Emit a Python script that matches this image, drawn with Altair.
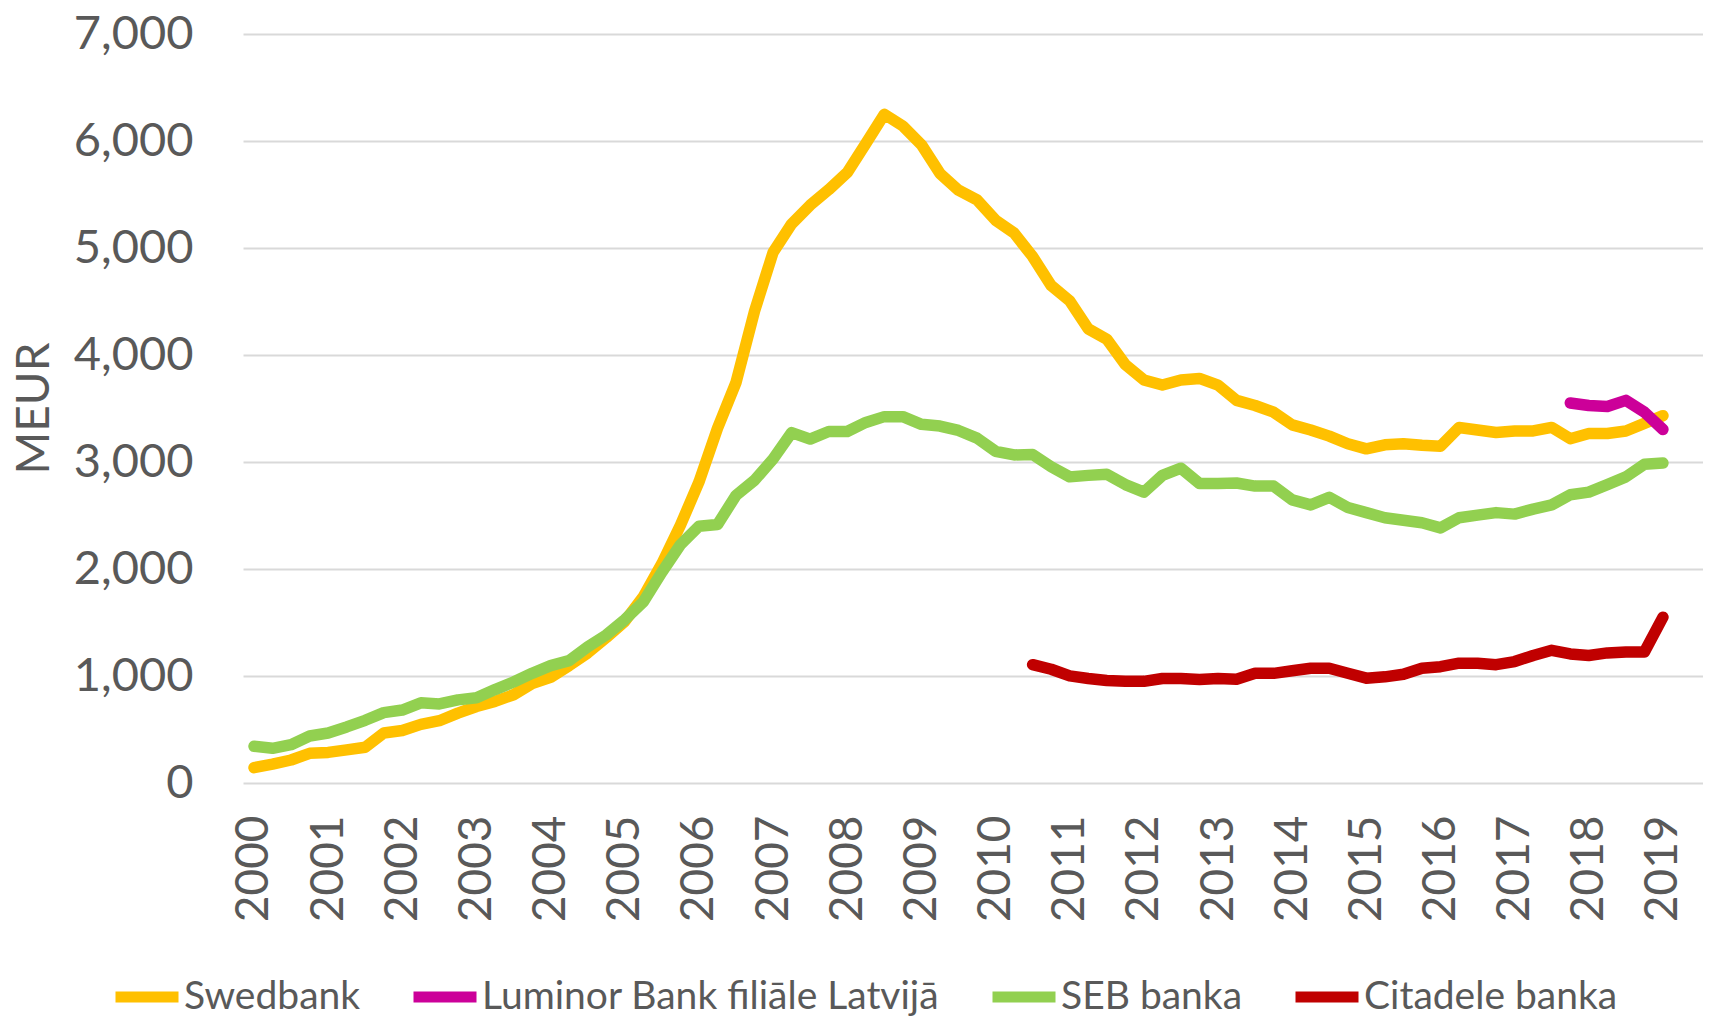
import altair as alt
import pandas as pd

# ---- data (quarterly, 2000Q1 .. 2019Q1), MEUR ----
years = list(range(2000, 2020))

swedbank = [143, 176, 215, 277, 286, 310, 334, 467, 491, 548, 582, 653, 715, 763, 825, 930,
            987, 1097, 1216, 1359, 1511, 1740, 2050, 2408, 2813, 3314, 3743, 4410, 4959, 5225,
            5400, 5545, 5705, 5975, 6250, 6140, 5965, 5697, 5540, 5450, 5260, 5140, 4920, 4649,
            4506, 4244, 4148, 3910, 3767, 3719, 3767, 3781, 3719, 3576, 3528, 3466, 3347, 3299,
            3242, 3171, 3123, 3161, 3171, 3156, 3147, 3323, 3299, 3276, 3290, 3290, 3323, 3218,
            3266, 3266, 3290, 3361, 3433]

luminor_start = 71
luminor = [3552, 3528, 3519, 3576, 3466, 3304]

seb = [343, 324, 358, 439, 467, 524, 586, 658, 682, 749, 739, 777, 796, 873, 944, 1025,
       1097, 1144, 1273, 1383, 1526, 1693, 1969, 2227, 2400, 2415, 2688, 2830, 3028, 3274,
       3214, 3285, 3285, 3370, 3424, 3424, 3352, 3336, 3295, 3223, 3100, 3066, 3070, 2956,
       2861, 2875, 2885, 2789, 2718, 2875, 2942, 2799, 2799, 2804, 2775, 2775, 2646, 2599,
       2670, 2575, 2527, 2479, 2456, 2432, 2384, 2479, 2503, 2527, 2513, 2560, 2599, 2694,
       2718, 2789, 2861, 2980, 2990]

citadele_start = 42
citadele = [1106, 1063, 1001, 977, 958, 952, 950, 977, 977, 968, 977, 970, 1025, 1025, 1049,
            1073, 1073, 1025, 980, 992, 1016, 1073, 1087, 1120, 1120, 1106, 1135, 1192, 1240,
            1206, 1192, 1216, 1225, 1225, 1550]

banks = ["Swedbank", "Luminor Bank filiāle Latvijā", "SEB banka", "Citadele banka"]
colors = ["#FFC000", "#CC0099", "#92D050", "#C00000"]

rows = []
for name, vals, start in [(banks[0], swedbank, 0), (banks[1], luminor, luminor_start),
                          (banks[2], seb, 0), (banks[3], citadele, citadele_start)]:
    for i, v in enumerate(vals):
        rows.append({"t": start + i, "value": v, "bank": name})
df = pd.DataFrame(rows)

W, H = 1460, 749
TXT = "#595959"
FONT = "Lato"

chart = alt.Chart(df).mark_line(
    strokeWidth=11.5, strokeCap="round", strokeJoin="round"
).encode(
    x=alt.X(
        "t:Q",
        scale=alt.Scale(domain=[-0.593, 78.16], nice=False, zero=False),
        axis=alt.Axis(
            values=[(y - 2000) * 4 for y in years],
            labelExpr="toString(2000 + datum.value / 4)",
            labelAngle=270, labelAlign="right", labelBaseline="middle",
            labelPadding=32, ticks=False, domain=False, grid=False,
            labelFontSize=46, labelColor=TXT, labelFont=FONT, title=None,
        ),
    ),
    y=alt.Y(
        "value:Q",
        scale=alt.Scale(domain=[0, 7000], nice=False),
        axis=alt.Axis(
            values=list(range(0, 7001, 1000)), format=",d",
            ticks=False, domain=False, grid=True, gridColor="#D9D9D9", gridWidth=2,
            labelPadding=50, labelFontSize=47, labelColor=TXT, labelFont=FONT,
            title="MEUR", titleFontSize=46, titleFont=FONT, titleFontWeight="normal",
            titleColor=TXT, titleAngle=270, titleX=-209, titleY=374,
            titleAlign="center", titleBaseline="middle",
        ),
    ),
    color=alt.Color(
        "bank:N",
        scale=alt.Scale(domain=banks, range=colors),
        legend=alt.Legend(
            orient="none", legendX=-133, legendY=926, direction="horizontal",
            title=None, labelFontSize=39, labelFont=FONT, labelColor=TXT,
            labelLimit=0,
            symbolType="stroke", symbolSize=3969, symbolStrokeWidth=11,
            columnPadding=30, labelOffset=0, padding=0,
        ),
    ),
).properties(
    width=W, height=H,
    autosize=alt.AutoSizeParams(type="none"),
    padding={"left": 235, "top": 26, "right": 0, "bottom": 234},
    background="white",
).configure_view(stroke=None)

chart.save("out.html", embed_options={"renderer": "svg", "actions": False})
